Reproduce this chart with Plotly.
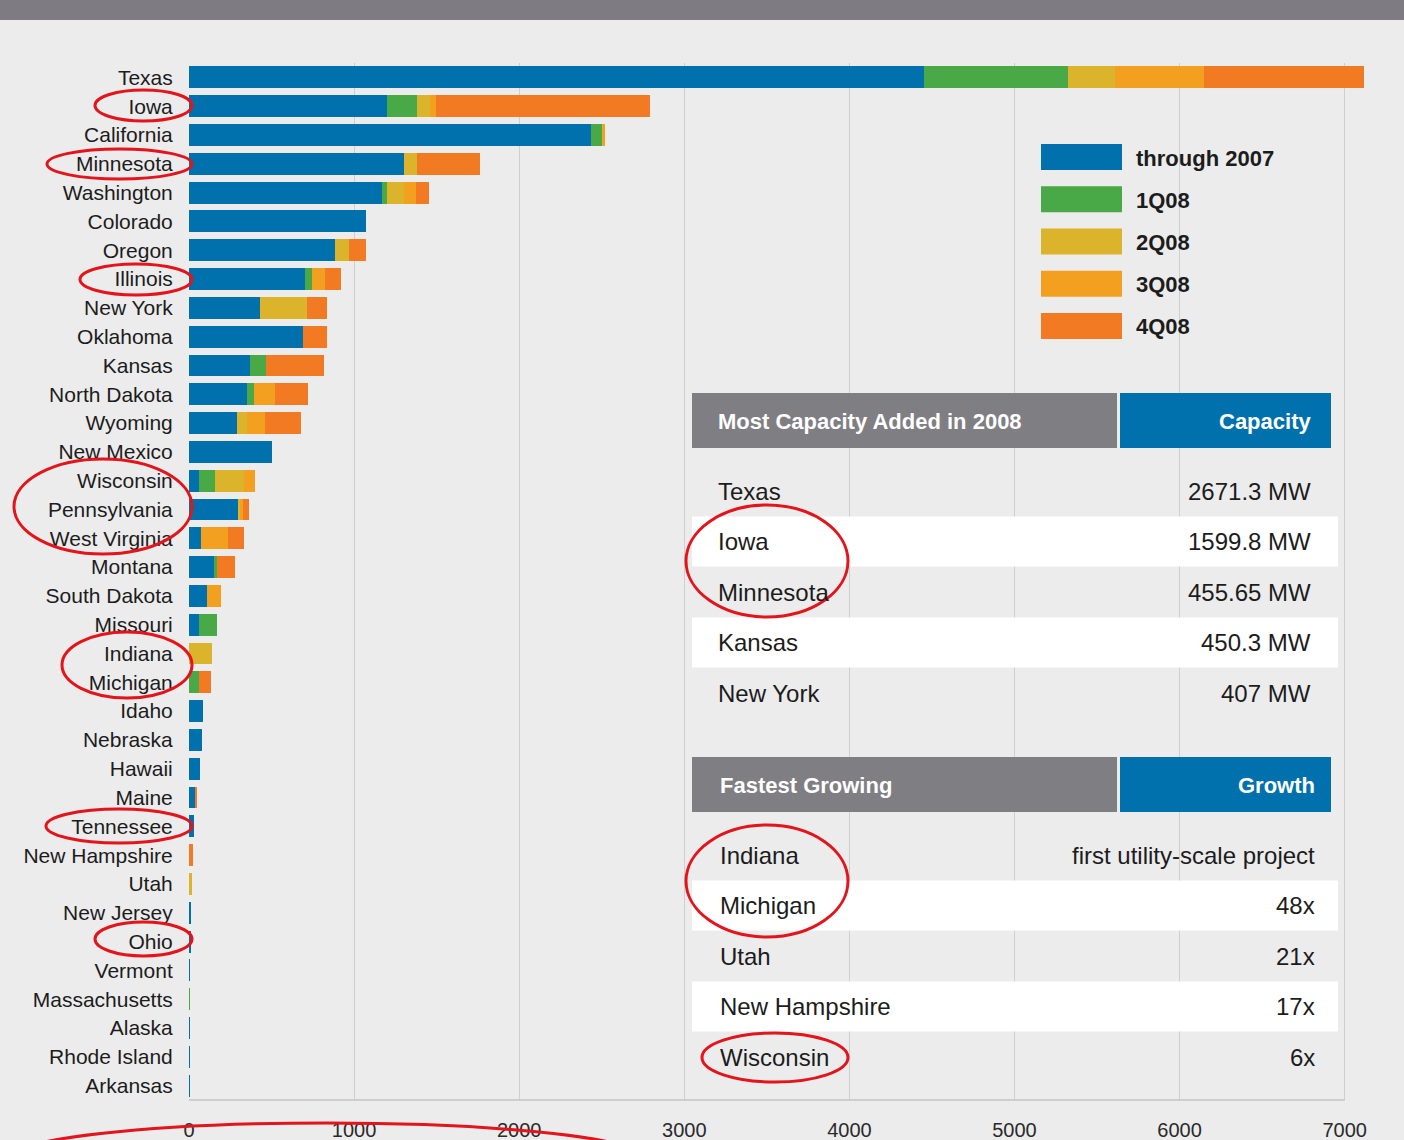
import plotly.graph_objects as go

# ---------------- data ----------------
states = ["Texas", "Iowa", "California", "Minnesota", "Washington", "Colorado", "Oregon",
          "Illinois", "New York", "Oklahoma", "Kansas", "North Dakota", "Wyoming", "New Mexico",
          "Wisconsin", "Pennsylvania", "West Virginia", "Montana", "South Dakota", "Missouri",
          "Indiana", "Michigan", "Idaho", "Nebraska", "Hawaii", "Maine", "Tennessee",
          "New Hampshire", "Utah", "New Jersey", "Ohio", "Vermont", "Massachusetts", "Alaska",
          "Rhode Island", "Arkansas"]

series_names = ["through 2007", "1Q08", "2Q08", "3Q08", "4Q08"]

through_2007 = [4452, 1197, 2433, 1305, 1167, 1070, 886, 705, 432, 692, 369, 349, 293, 503,
                59, 297, 75, 150, 107, 62, 0, 2.6, 83, 77, 68, 42, 29, 1, 1, 8, 7, 6, 0.3, 2, 1, 1]
q1_08 = [872, 184, 70, 0, 32, 0, 0, 43, 0, 0, 99, 43, 0, 0,
         98, 0, 0, 21, 0, 108, 0, 58, 0, 0, 0, 0, 0, 0, 0, 0, 0, 0, 4, 0, 0, 0]
q2_08 = [285, 76, 10, 73, 103, 0, 84, 0, 283, 0, 0, 0, 58, 0,
         178, 10, 0, 0, 0, 0, 137, 0, 0, 0, 0, 0, 0, 0, 19, 0, 0, 0, 0, 0, 0, 0]
q3_08 = [539, 37, 7, 0, 71, 0, 0, 76, 0, 0, 0, 131, 112, 0,
         63, 20, 159, 0, 87, 0, 0, 0, 0, 0, 0, 0, 0, 0, 0, 0, 0, 0, 0, 0, 0, 0]
q4_08 = [969, 1301, 0, 382, 81, 0, 100, 94, 121, 144, 348, 198, 215, 0,
         0, 38, 101, 106, 0, 0, 0, 72, 0, 0, 0, 5, 0, 24, 0, 0, 0, 0, 0, 0, 0, 0]
series_values = [through_2007, q1_08, q2_08, q3_08, q4_08]
series_colors = ["#0071ad", "#4aa947", "#dcb42c", "#f3a020", "#f17a23"]

x_ticks = [0, 1000, 2000, 3000, 4000, 5000, 6000, 7000]

table1_title = "Most Capacity Added in 2008"
table1_col = "Capacity"
table1_states = ["Texas", "Iowa", "Minnesota", "Kansas", "New York"]
table1_values = ["2671.3 MW", "1599.8 MW", "455.65 MW", "450.3 MW", "407 MW"]

table2_title = "Fastest Growing"
table2_col = "Growth"
table2_states = ["Indiana", "Michigan", "Utah", "New Hampshire", "Wisconsin"]
table2_values = ["first utility-scale project", "48x", "21x", "17x", "6x"]

# ---------------- geometry helpers (pixel -> paper) ----------------
W, H = 1404, 1140
PL, PR, PT, PB = 189, 1366, 63, 1100


def px(x):
    return (x - PL) / (PR - PL)


def py(y):
    return (PB - y) / (PB - PT)


FONT = "Liberation Sans, Arial, sans-serif"
BG = "#ececec"
GRAY_HDR = "#7f7e83"
BLUE_HDR = "#0071ad"
TXT = "#1c1c1c"

fig = go.Figure()
for name, vals, col in zip(series_names, series_values, series_colors):
    fig.add_trace(go.Bar(
        y=states, x=vals, name=name, orientation="h",
        marker=dict(color=col, line=dict(width=0)),
        showlegend=False,
    ))

shapes = []
annotations = []

# top dark band
shapes.append(dict(type="rect", xref="paper", yref="paper",
                   x0=px(0), x1=px(W), y0=py(0), y1=py(20),
                   fillcolor="#7e7c82", line=dict(width=0), layer="above"))

# bottom axis line (0..7000)
shapes.append(dict(type="line", xref="x", yref="paper", x0=x_ticks[0], x1=x_ticks[-1],
                   y0=0, y1=0, line=dict(color="#c4c4c6", width=1.5), layer="above"))

# legend (custom)
for i, (name, col) in enumerate(zip(series_names, series_colors)):
    cy = 157 + i * 42.25
    shapes.append(dict(type="rect", xref="paper", yref="paper",
                       x0=px(1041), x1=px(1122), y0=py(cy - 13), y1=py(cy + 13),
                       fillcolor=col, line=dict(width=0), layer="above"))
    annotations.append(dict(xref="paper", yref="paper", x=px(1134), y=py(cy + 1),
                            xanchor="left", yanchor="middle", showarrow=False,
                            text="<b>%s</b>" % name,
                            font=dict(family=FONT, size=22, color=TXT)))


def add_table(top, title, col, names, values, left_txt, right_txt):
    # header
    shapes.append(dict(type="rect", xref="paper", yref="paper",
                       x0=px(692), x1=px(1117), y0=py(top), y1=py(top + 55),
                       fillcolor=GRAY_HDR, line=dict(width=0), layer="above"))
    shapes.append(dict(type="rect", xref="paper", yref="paper",
                       x0=px(1120), x1=px(1331), y0=py(top), y1=py(top + 55),
                       fillcolor=BLUE_HDR, line=dict(width=0), layer="above"))
    annotations.append(dict(xref="paper", yref="paper", x=px(left_txt), y=py(top + 28),
                            xanchor="left", yanchor="middle", showarrow=False,
                            text="<b>%s</b>" % title,
                            font=dict(family=FONT, size=22, color="white")))
    annotations.append(dict(xref="paper", yref="paper", x=px(right_txt), y=py(top + 28),
                            xanchor="right", yanchor="middle", showarrow=False,
                            text="<b>%s</b>" % col,
                            font=dict(family=FONT, size=22, color="white")))
    first = top + 98
    for i, (n, v) in enumerate(zip(names, values)):
        cy = first + i * 50.5
        if i % 2 == 1:
            shapes.append(dict(type="rect", xref="paper", yref="paper",
                               x0=px(692), x1=px(1338), y0=py(cy - 25), y1=py(cy + 25),
                               fillcolor="white", line=dict(width=0), layer="above"))
        annotations.append(dict(xref="paper", yref="paper", x=px(left_txt), y=py(cy),
                                xanchor="left", yanchor="middle", showarrow=False,
                                text=n, font=dict(family=FONT, size=24, color=TXT)))
        annotations.append(dict(xref="paper", yref="paper", x=px(right_txt), y=py(cy),
                                xanchor="right", yanchor="middle", showarrow=False,
                                text=v, font=dict(family=FONT, size=24, color=TXT)))


add_table(393, table1_title, table1_col, table1_states, table1_values, 716, 1313)
add_table(757, table2_title, table2_col, table2_states, table2_values, 718, 1317)

# red hand-drawn style ellipses
ellipses = [
    (95, 90, 192, 121),
    (47, 149, 192, 179),
    (80, 264, 192, 295),
    (14, 459, 192, 554),
    (62, 632, 192, 698),
    (46, 809, 192, 843),
    (95, 922, 192, 956),
    (7, 1123, 647, 1195),
    (686, 505, 848, 617),
    (686, 825, 848, 937),
    (702, 1033, 848, 1082),
]
for (x0, y0, x1, y1) in ellipses:
    shapes.append(dict(type="circle", xref="paper", yref="paper",
                       x0=px(x0), x1=px(x1), y0=py(y1), y1=py(y0),
                       line=dict(color="#e3141b", width=3), fillcolor="rgba(0,0,0,0)",
                       layer="above"))

fig.update_layout(
    width=W, height=H,
    barmode="stack", bargap=0.24,
    paper_bgcolor=BG, plot_bgcolor=BG,
    margin=dict(l=PL, r=W - PR, t=PT, b=H - PB, pad=0, autoexpand=False),
    font=dict(family=FONT, color=TXT),
    shapes=shapes, annotations=annotations,
    showlegend=False,
)
fig.update_xaxes(range=[0, (PR - PL) / 0.16510], tickvals=x_ticks,
                 showgrid=True, gridcolor="#cfcfd1", gridwidth=1.2,
                 zeroline=False, showline=False, automargin=False,
                 ticks="outside", ticklen=12, tickcolor="rgba(0,0,0,0)",
                 tickfont=dict(family=FONT, size=20, color="#2a2a2a"))
fig.update_yaxes(categoryorder="array", categoryarray=states, autorange="reversed",
                 showgrid=False, zeroline=False, showline=False, automargin=False,
                 ticks="outside", ticklen=11, tickcolor="rgba(0,0,0,0)",
                 tickfont=dict(family=FONT, size=21, color=TXT))

fig.write_html("out.html", config={"displayModeBar": False},
               post_script="document.body.style.margin='0';document.body.style.overflow='hidden';")
